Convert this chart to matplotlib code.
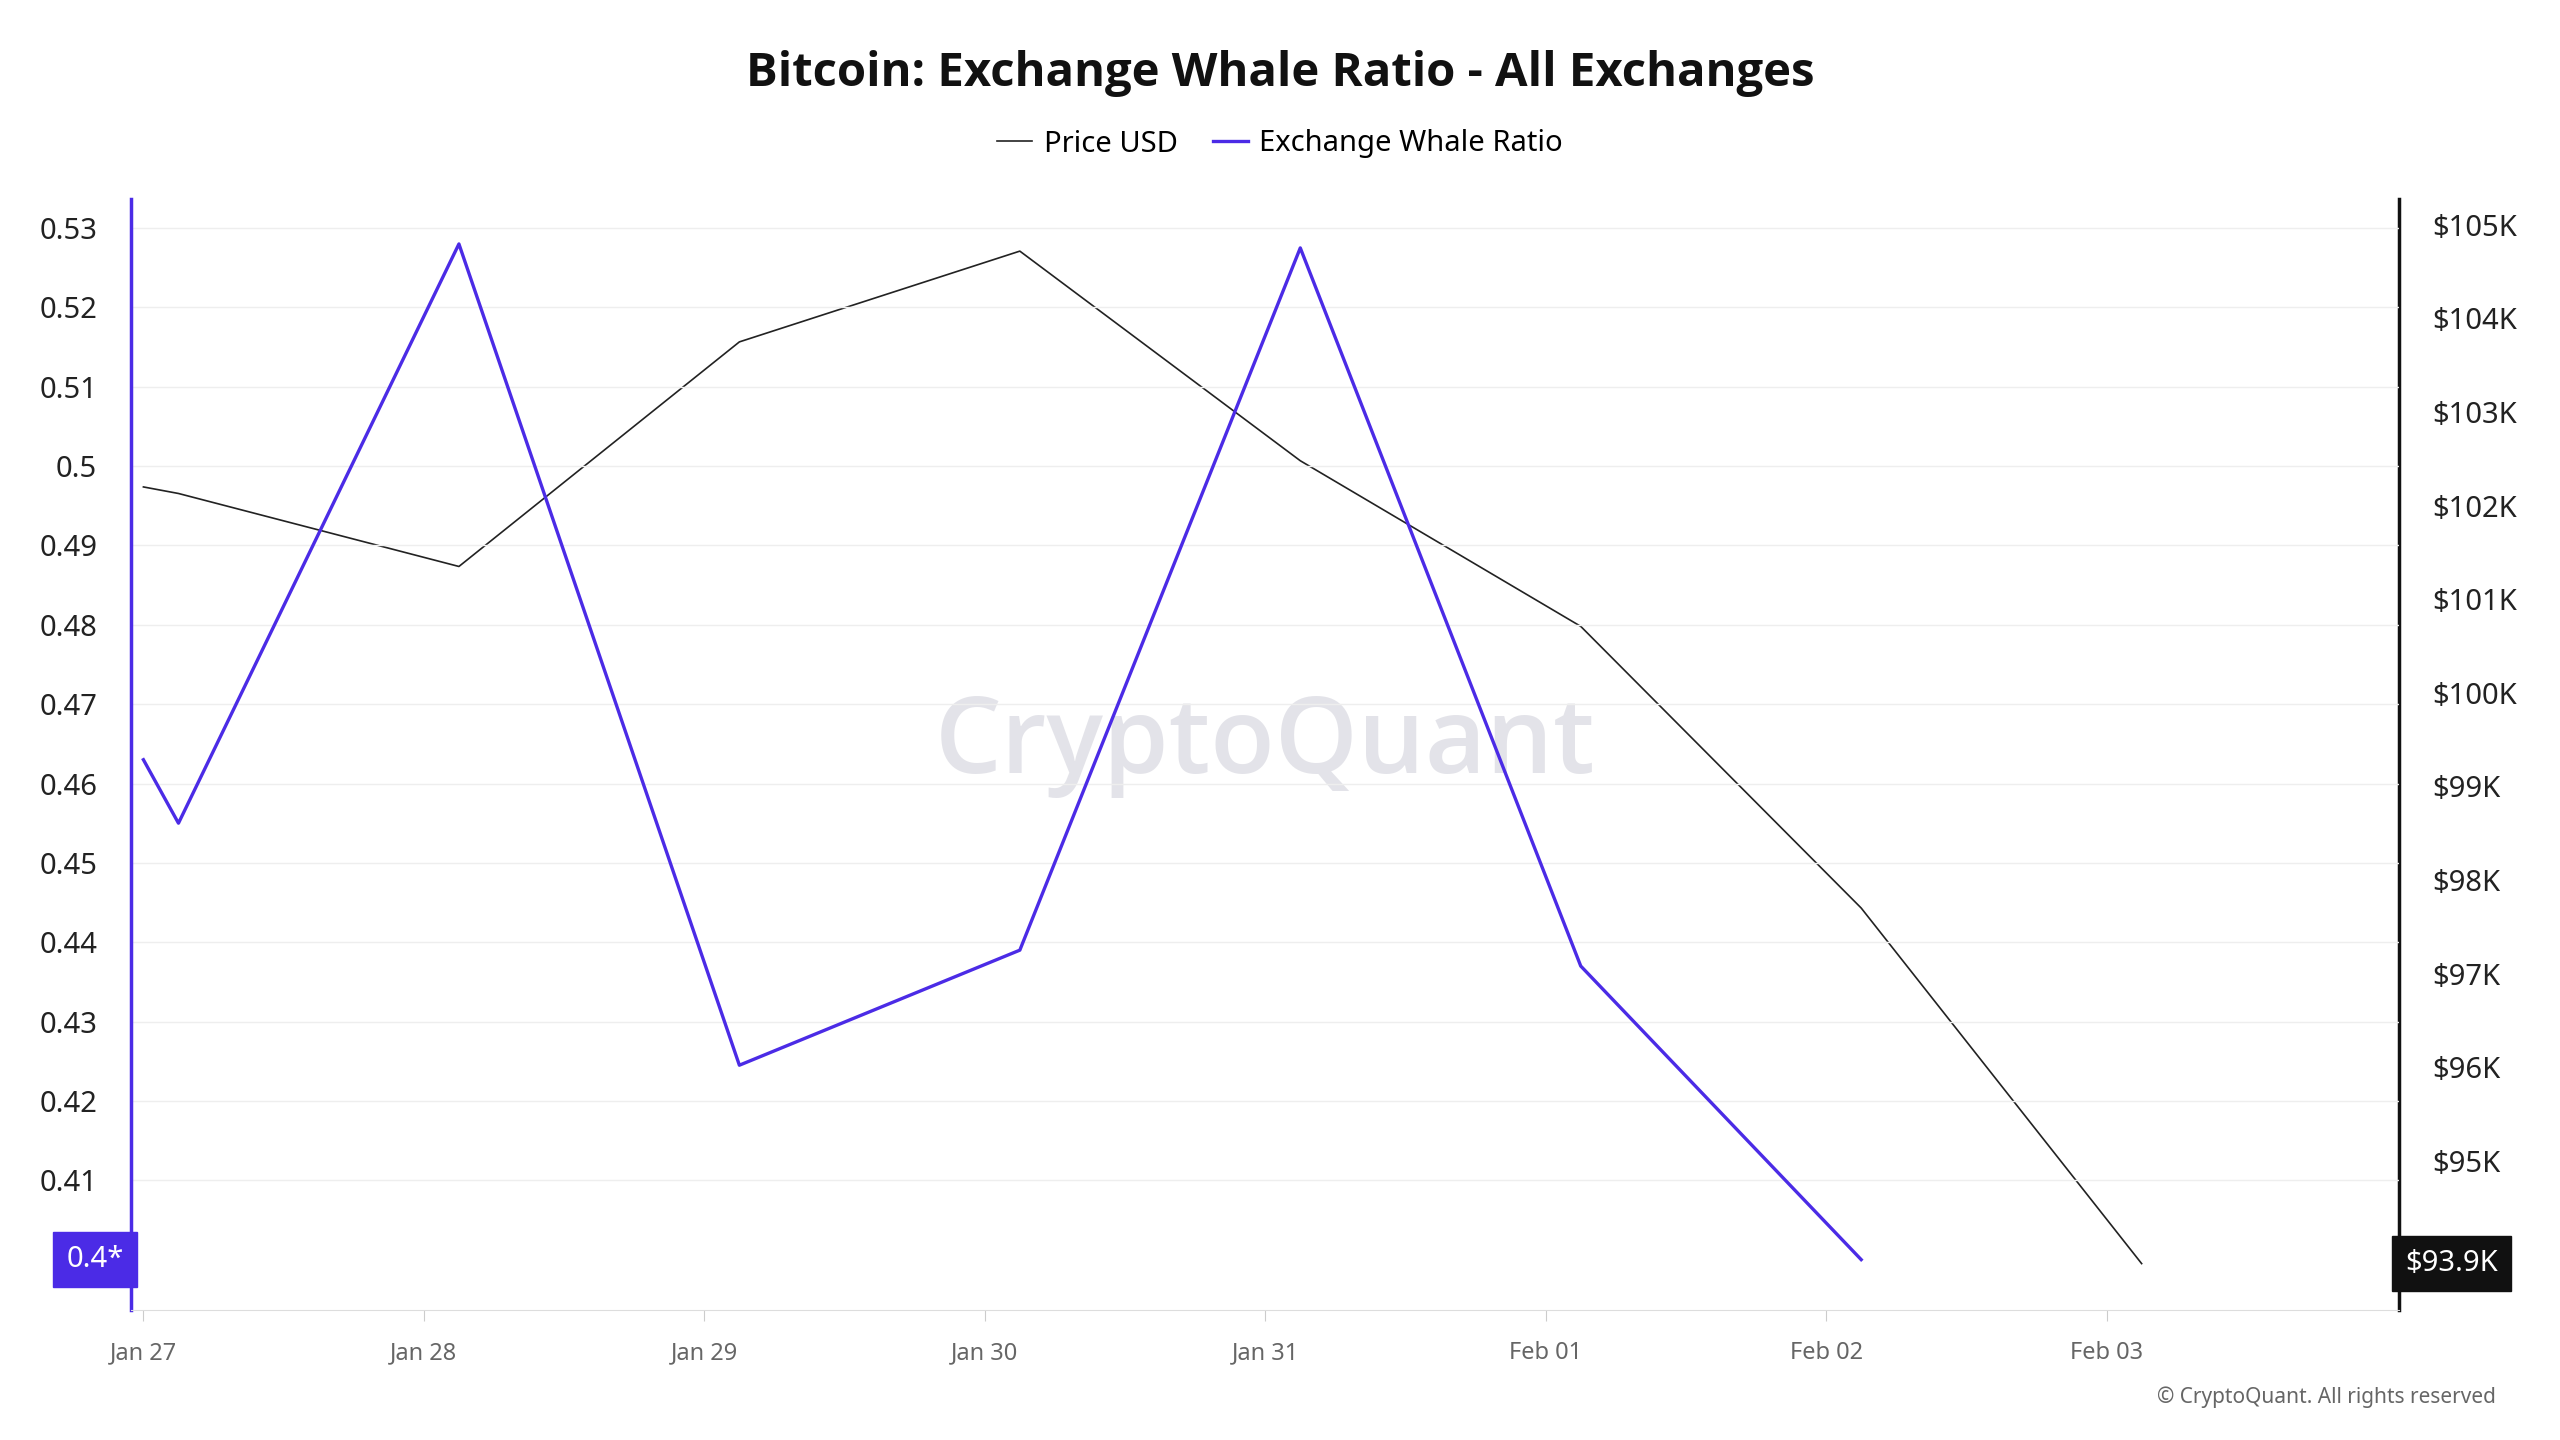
import matplotlib
matplotlib.use("Agg")
import matplotlib.pyplot as plt
from matplotlib.lines import Line2D
from datetime import datetime, timedelta

plt.rcParams["font.family"] = "Noto Sans"

whale_times = ["2025-01-27 00:00", "2025-01-27 03:00", "2025-01-28 03:00", "2025-01-29 03:00",
               "2025-01-30 03:00", "2025-01-31 03:00", "2025-02-01 03:00", "2025-02-02 03:00"]
whale_ratio = [0.463, 0.455, 0.528, 0.4245, 0.439, 0.5275, 0.437, 0.400]
price_times = whale_times + ["2025-02-03 03:00"]
price_usd = [102200, 102130, 101350, 103750, 104720, 102480, 100710, 97700, 93900]
left_ticks = [0.41, 0.42, 0.43, 0.44, 0.45, 0.46, 0.47, 0.48, 0.49, 0.5, 0.51, 0.52, 0.53]
right_ticks = [95000, 96000, 97000, 98000, 99000, 100000, 101000, 102000, 103000, 104000, 105000]
date_ticks = ["2025-01-27", "2025-01-28", "2025-01-29", "2025-01-30", "2025-01-31",
              "2025-02-01", "2025-02-02", "2025-02-03"]

P = "#4B2BE6"
fp = lambda s: datetime.strptime(s, "%Y-%m-%d %H:%M")
wt = [fp(s) for s in whale_times]
pt = [fp(s) for s in price_times]
dt = [datetime.strptime(s, "%Y-%m-%d") for s in date_ticks]

fig = plt.figure(figsize=(25.6, 14.4), dpi=100)
fig.patch.set_facecolor("white")
ax = fig.add_axes([0.051, 0.090, 0.886, 0.772])
ax2 = ax.twinx()

ax.plot(wt, whale_ratio, color=P, lw=2.4, zorder=3)
ax2.plot(pt, price_usd, color="#222222", lw=1.2, zorder=2)
ax.set_zorder(ax2.get_zorder() + 1)
ax.patch.set_visible(False)

ax.set_xlim(dt[0] - timedelta(hours=1.1), dt[-1] + timedelta(hours=25.0))
ax.set_ylim(0.3936, 0.5337)
ax2.set_ylim(93400, 105280)

ax.set_yticks(left_ticks)
ax.set_yticklabels([f"{v:g}" for v in left_ticks])
ax2.set_yticks(right_ticks)
ax2.set_yticklabels([f"${int(v/1000)}K" for v in right_ticks])
ax.set_xticks(dt)
ax.set_xticklabels([d.strftime("%b %d") for d in dt])

ax.tick_params(axis="y", length=0, labelsize=21, colors="#222222", pad=24)
ax2.tick_params(axis="y", length=0, labelsize=21, colors="#222222", pad=24)
ax.tick_params(axis="x", length=8, color="#cccccc", labelsize=17, labelcolor="#666666", pad=14)
ax.grid(axis="y", color="#eeeeee", lw=1)

for a in (ax, ax2):
    for s in a.spines.values():
        s.set_visible(False)
ax.spines["left"].set_visible(True); ax.spines["left"].set_color(P); ax.spines["left"].set_linewidth(2.5)
ax2.spines["right"].set_visible(True); ax2.spines["right"].set_color("#111111"); ax2.spines["right"].set_linewidth(2.5)
ax.spines["bottom"].set_visible(True); ax.spines["bottom"].set_color("#dddddd")

ax.text(-0.003, 0.40, "0.4*", transform=ax.get_yaxis_transform(), ha="right", va="center",
        fontsize=21, color="white", bbox=dict(boxstyle="square,pad=0.45", fc=P, ec=P))
ax2.text(1.003, 93900, "$93.9K", transform=ax2.get_yaxis_transform(), ha="left", va="center",
         fontsize=21, color="white", bbox=dict(boxstyle="square,pad=0.45", fc="#111111", ec="#111111"))

fig.text(0.5, 0.949, "Bitcoin: Exchange Whale Ratio - All Exchanges", ha="center", va="center",
         fontsize=34, fontweight="bold", fontfamily="Open Sans", color="#111111")
fig.legend([Line2D([], [], color="#222222", lw=1.2), Line2D([], [], color=P, lw=2.4)],
           ["Price USD", "Exchange Whale Ratio"], loc="center", bbox_to_anchor=(0.5, 0.90),
           ncol=2, frameon=False, fontsize=21, handlelength=1.2, columnspacing=1.2, handletextpad=0.4)
fig.text(0.494, 0.482, "CryptoQuant", ha="center", va="center", fontsize=76, fontweight="semibold",
         fontfamily="Open Sans", color="#d8d8e0", alpha=0.7, zorder=0)
fig.text(0.975, 0.030, "© CryptoQuant. All rights reserved", ha="right", va="center",
         fontsize=15, color="#666666")
fig.savefig("out.png", dpi=100)
